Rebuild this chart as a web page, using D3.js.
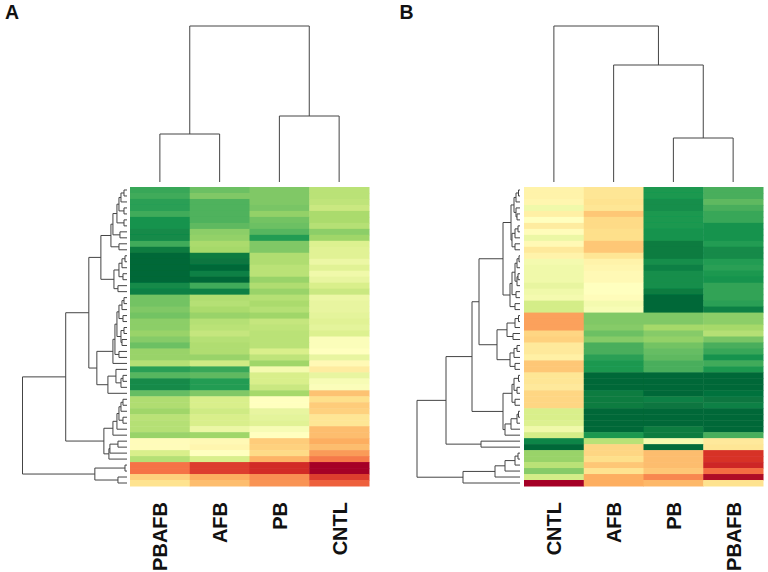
<!DOCTYPE html>
<html><head><meta charset="utf-8">
<script src="https://cdnjs.cloudflare.com/ajax/libs/d3/7.8.5/d3.min.js"></script>
<style>html,body{margin:0;padding:0;background:#fff}svg{display:block}</style>
</head><body><svg id="c" width="768" height="572"></svg>
<script>
const columnsA = ["PBAFB","AFB","PB","CNTL"];
const columnsB = ["CNTL","AFB","PB","PBAFB"];
// colour position per row: 0 = dark red, 1 = dark green
const valuesA = [
[.86,.79,.76,.66],[.85,.76,.76,.66],[.88,.83,.76,.65],[.88,.83,.77,.63],[.85,.83,.73,.69],
[.91,.83,.78,.69],[.91,.81,.79,.67],[.93,.74,.82,.74],[.93,.73,.89,.71],[.85,.69,.76,.59],
[.96,.70,.76,.58],[1,.96,.68,.58],[1,.97,.68,.55],[1,1,.66,.58],[1,.95,.66,.54],
[1,1,.72,.56],[.93,.85,.68,.60],[.95,.95,.72,.63],[.78,.68,.67,.55],[.78,.67,.69,.56],
[.76,.69,.67,.56],[.78,.72,.71,.57],[.74,.67,.64,.58],[.74,.66,.65,.57],[.72,.64,.66,.59],
[.75,.67,.66,.51],[.79,.68,.66,.51],[.72,.68,.60,.50],[.72,.72,.65,.56],[.67,.62,.71,.48],
[.88,.86,.53,.44],[.82,.81,.60,.56],[.93,.89,.60,.52],[.93,.89,.63,.51],[.80,.76,.70,.34],
[.68,.60,.50,.40],[.68,.60,.50,.36],[.71,.62,.56,.37],[.66,.60,.57,.42],[.67,.60,.58,.42],
[.67,.55,.52,.33],[.72,.71,.50,.33],[.49,.48,.36,.30],[.49,.47,.37,.33],[.60,.50,.39,.27],
[.67,.60,.31,.22],[.21,.12,.09,0],[.21,.12,.09,0],[.37,.30,.25,.12],[.41,.33,.26,.18]];
const valuesB = [
[.46,.42,.90,.84],[.46,.42,.90,.84],[.47,.41,.92,.81],[.54,.42,.92,.84],[.45,.35,.90,.86],
[.50,.39,.90,.86],[.44,.39,.90,.91],[.49,.40,.91,.91],[.55,.40,.91,.91],[.48,.35,.96,.89],
[.43,.35,.96,.93],[.46,.42,.96,.93],[.53,.46,.92,.89],[.54,.47,.95,.88],[.54,.48,.92,.90],
[.54,.48,.92,.91],[.56,.50,.92,.87],[.54,.50,.96,.87],[.53,.49,1,.87],[.61,.53,1,.88],
[.61,.52,1,.95],[.28,.76,.76,.74],[.28,.76,.76,.74],[.28,.75,.70,.70],[.38,.79,.75,.67],
[.37,.75,.73,.77],[.43,.84,.78,.84],[.43,.84,.80,.86],[.45,.88,.81,.91],[.35,.90,.84,.85],
[.35,.90,.84,.90],[.42,1,1,1],[.42,1,1,1],[.43,1,1,1],[.38,.96,1,.98],
[.38,.96,.95,.97],[.38,.96,.97,.95],[.60,1,1,1],[.60,1,1,1],[.59,1,1,1],
[.54,1,.96,1],[.61,.90,.96,.84],[.94,.66,.53,.43],[1,.38,.99,.42],[.72,.38,.33,.10],
[.72,.40,.33,.10],[.66,.35,.33,.08],[.75,.41,.35,.20],[.61,.30,.24,.02],[0,.30,.32,.41]];

// Dendrograms: [height, childA, childB]; integers are leaves (row or column index)
const rowTreeA = [104,
 [61,
  [38,
   [26,
    [16,
     [14,
      [10,[8,[6,[3,0,1],2],[3,3,4]],[3,5,6]],
      [7,7,8]],
     [8,9,10]],
    [13,
     [8,[5,[2,11,12],13],[4,14,15]],
     [9,16,17]]],
   [30,
    [14,
     [12,
      [10,
       [8,[5,[3,18,19],20],[4,21,22]],
       [6,[3,23,24],[5,25,26]]],
      [8,27,28]],
     29],
    [19,[11,30,[6,[4,31,32],33]],34]]],
  [23,
   [14,[10,[8,[6,[4,35,36],37],[4,38,39]],40],41],
   [18,[17,[9,42,43],44],45]]],
 [32,[2,46,47],[9,48,49]]];
const rowTreeB = [103,
 [74,
  [48,
   [41,
    [17,
     [9,
      [6,[4,[1.5,0,1],2],[4,3,[3,4,5]]],
      [8,[5,[2,6,7],8],[5,9,10]]],
     [10,
      [8,[5,[3,[1,11,12],13],[3,[2,14,15],16]],[4,17,18]],
      [5,19,20]]],
    [23,
     [13,[5,[1.5,21,22],23],[7,24,25]],
     [10,[6,[3,26,27],28],[5,29,30]]]],
   [17,
    [8,[6,[1.5,31,32],[3,33,34]],[5,35,36]],
    [15,[9,[3,[1.5,37,38],39],40],41]]],
  [39,42,43]],
 [57,[25,[15,[5,[2,44,45],46],47],48],49]];
const colTreeA = [156,[48,0,1],[66,2,3]];
const colTreeB = [156,0,[117,1,[44,2,3]]];

const svg = d3.select("#c");
svg.append("defs").append("filter").attr("id","soft")
  .attr("x","-2%").attr("y","-2%").attr("width","104%").attr("height","104%")
  .append("feGaussianBlur").attr("stdDeviation",0.55);
const isNode = d => Array.isArray(d);
const ink = "#444";
const stops = d3.schemeRdYlGn[11];
const colour = d3.scaleLinear().domain(stops.map((_,i)=>i/10)).range(stops).interpolate(d3.interpolateRgb);

function drawTree(tree, leafPos, heightScale, horizontal){
  const root = d3.hierarchy(tree, d => isNode(d) ? d.slice(1) : null);
  root.eachAfter(n => {
    n.h = isNode(n.data) ? n.data[0] : 0;
    n.p = n.children ? d3.mean(n.children, c => c.p) : leafPos(n.data);
  });
  const g = svg.append("g").attr("fill","none").attr("stroke",ink).attr("stroke-width",1);
  root.descendants().filter(n => n.children).forEach(n => {
    const path = d3.path();
    const [a,b] = n.children;
    const pt = (p,h) => horizontal ? [heightScale(h),p] : [p,heightScale(h)];
    path.moveTo(...pt(a.p,a.h)); path.lineTo(...pt(a.p,n.h));
    path.lineTo(...pt(b.p,n.h)); path.lineTo(...pt(b.p,b.h));
    g.append("path").attr("d",path.toString());
  });
}
function panel(cfg){
  const x = d3.scaleBand().domain(d3.range(cfg.columns.length)).range([cfg.left,cfg.left+239]);
  const y = d3.scaleBand().domain(d3.range(cfg.values.length)).range([187,486]);
  const cells = cfg.values.flatMap((r,i) => r.map((v,j) => ({i,j,v})));
  svg.append("g").attr("filter","url(#soft)").selectAll("rect").data(cells).join("rect")
    .attr("x",d=>x(d.j)).attr("y",d=>y(d.i))
    .attr("width",x.bandwidth()+0.5).attr("height",y.bandwidth()+0.5)
    .attr("fill",d=>colour(d.v));
  const rowH = d3.scaleLinear().domain([0,cfg.rowMax]).range([cfg.left-cfg.gap,cfg.rootX]);
  drawTree(cfg.rowTree, r => y(r)+y.bandwidth()/2, rowH, true);
  const colH = d3.scaleLinear().domain([0,156]).range([182,26]);
  drawTree(cfg.colTree, c => x(c)+x.bandwidth()/2, colH, false);
  svg.append("g").selectAll("text").data(cfg.columns).join("text")
    .attr("transform",(d,i)=>`translate(${x(i)+x.bandwidth()/2+7.5},${cfg.labelTop}) rotate(-90)`)
    .attr("text-anchor","end")
    .attr("font-family","'Liberation Sans',Arial,sans-serif").attr("font-weight","bold").attr("font-size",20)
    .attr("fill","#111").text(d=>d);
  svg.append("text").attr("x",cfg.tagX).attr("y",19)
    .attr("font-family","'Liberation Sans',Arial,sans-serif").attr("font-weight","bold").attr("font-size",19.5)
    .attr("fill","#111").text(cfg.tag);
}
panel({left:130,gap:3,rootX:22.5,rowMax:104,columns:columnsA,values:valuesA,rowTree:rowTreeA,colTree:colTreeA,labelTop:502,tag:"A",tagX:5});
panel({left:524,gap:4,rootX:417,rowMax:103,columns:columnsB,values:valuesB,rowTree:rowTreeB,colTree:colTreeB,labelTop:502,tag:"B",tagX:399.5});
</script></body></html>
